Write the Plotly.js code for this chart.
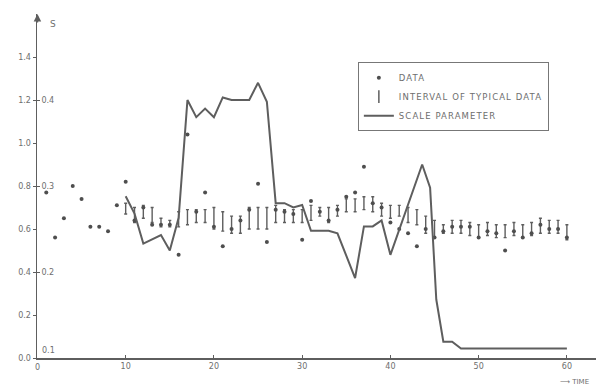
<!DOCTYPE html>
<html>
<head>
<meta charset="utf-8">
<script src="https://cdn.plot.ly/plotly-3.0.1.min.js"></script>
<style>
html,body{margin:0;padding:0;background:#fff;}
#chart{width:596px;height:388px;}
.legendtext{letter-spacing:1.1px;}
</style>
</head>
<body>
<div id="chart"></div>
<script>
// Data points (time, value on left axis)
const dataT = [1,2,3,4,5,6,7,8,9,10,11,12,13,14,15,16,17,18,19,20,21,22,23,24,25,26,27,28,29,30,
               31,32,33,34,35,36,37,38,39,40,41,42,43,44,45,46,47,48,49,50,51,52,53,54,55,56,57,58,59,60];
const dataV = [0.77,0.56,0.65,0.80,0.74,0.61,0.61,0.59,0.71,0.82,0.64,0.70,0.62,0.62,0.62,0.48,1.04,0.68,0.77,0.61,
               0.52,0.60,0.64,0.69,0.81,0.54,0.69,0.68,0.67,0.55,0.73,0.68,0.64,0.69,0.75,0.77,0.89,0.72,0.70,0.63,
               0.60,0.58,0.52,0.60,0.56,0.59,0.61,0.61,0.61,0.56,0.59,0.58,0.50,0.59,0.56,0.58,0.62,0.60,0.60,0.56];

// Interval of typical data (time, low, high)
const intT  = [10,11,12,13,14,15,16,17,18,19,20,21,22,23,24,25,26,27,28,29,30,31,32,33,34,35,
               36,37,38,39,40,41,42,43,44,45,46,47,48,49,50,51,52,53,54,55,56,57,58,59,60];
const intLo = [0.67,0.63,0.65,0.63,0.61,0.61,0.61,0.62,0.63,0.63,0.60,0.59,0.58,0.58,0.60,0.60,0.60,0.63,0.63,0.63,
               0.63,0.64,0.66,0.63,0.66,0.68,0.68,0.69,0.68,0.66,0.65,0.66,0.63,0.62,0.58,0.56,0.58,0.58,0.58,0.57,
               0.56,0.57,0.56,0.56,0.57,0.56,0.57,0.58,0.58,0.58,0.55];
const intHi = [0.72,0.70,0.71,0.70,0.65,0.64,0.68,0.69,0.69,0.69,0.70,0.68,0.66,0.66,0.70,0.70,0.70,0.71,0.69,0.69,
               0.69,0.71,0.70,0.70,0.71,0.74,0.74,0.75,0.75,0.72,0.71,0.71,0.70,0.69,0.66,0.64,0.62,0.64,0.64,0.63,
               0.62,0.63,0.62,0.62,0.63,0.62,0.63,0.65,0.64,0.64,0.62];

// Scale parameter S (right-hand scale)
const lineT = [10,11,12,13,14,15,16,17,18,19,20,21,22,23,24,25,26,27,28,29,30,31,32,33,34,36,37,38,39,40,43.6,44.5,45.2,46,47,48,60];
const lineS = [0.288,0.268,0.233,0.238,0.243,0.225,0.263,0.400,0.380,0.390,0.380,0.403,0.400,0.400,0.400,0.420,0.398,
               0.280,0.280,0.275,0.278,0.248,0.248,0.248,0.245,0.193,0.253,0.253,0.260,0.220,0.325,0.298,0.168,0.119,0.119,0.111,0.111];

// Tick labels
const xTicks = [0,10,20,30,40,50,60];
const yTicks = [0,0.2,0.4,0.6,0.8,1.0,1.2,1.4];
const sTicks = [0.2,0.3,0.4];
const sBaseLabel = 0.1;

const ink = '#5e5e5e';
const txt = '#6e6e6e';
const font = {family: 'DejaVu Sans', size: 8, color: txt};

const traces = [
  {
    x: intT, y: intLo, type: 'scatter', mode: 'markers',
    marker: {size: 1, color: 'rgba(0,0,0,0)'},
    error_y: {type: 'data', symmetric: false,
              array: intHi.map((h, i) => h - intLo[i]),
              arrayminus: intLo.map(() => 0),
              color: ink, thickness: 1.4, width: 1.5},
    showlegend: false, hoverinfo: 'skip'
  },
  {
    x: lineT, y: lineS, yaxis: 'y2', type: 'scatter', mode: 'lines',
    line: {color: ink, width: 2}, name: 'SCALE PARAMETER', legendrank: 3
  },
  {
    x: dataT, y: dataV, type: 'scatter', mode: 'markers',
    marker: {size: 4, color: '#4e4e4e'}, name: 'DATA', legendrank: 1
  },
  {
    x: [-100], y: [-100], type: 'scatter', mode: 'markers',
    marker: {symbol: 'line-ns-open', size: 9, color: ink, line: {width: 1.5, color: ink}},
    name: 'INTERVAL OF TYPICAL DATA', legendrank: 2
  }
];

const layout = {
  width: 596, height: 388,
  margin: {l: 37, r: 0, t: 14, b: 30},
  paper_bgcolor: '#ffffff', plot_bgcolor: '#ffffff',
  font: font,
  showlegend: true,
  legend: {
    x: 0.574, y: 0.86, xanchor: 'left', yanchor: 'top',
    bordercolor: '#777', borderwidth: 1, bgcolor: '#fff',
    font: {family: 'DejaVu Sans', size: 8.5, color: txt},
    traceorder: 'normal'
  },
  xaxis: {
    range: [-0.05, 63.3], tickvals: xTicks.slice(1), ticktext: xTicks.slice(1).map(String),
    ticks: 'inside', ticklen: 3, tickcolor: ink,
    showline: true, linecolor: ink, linewidth: 1.5,
    showgrid: false, zeroline: false, tickfont: font, fixedrange: true
  },
  yaxis: {
    range: [0, 1.6], tickvals: yTicks, ticktext: yTicks.map(v => v.toFixed(1)),
    ticks: 'outside', ticklen: 3, tickcolor: ink,
    showline: true, linecolor: ink, linewidth: 1.5,
    showgrid: false, zeroline: false, tickfont: font, fixedrange: true
  },
  yaxis2: {
    overlaying: 'y', anchor: 'x', side: 'left',
    range: [0.1, 0.5], tickvals: sTicks, ticktext: sTicks.map(v => v.toFixed(1)),
    ticklabelposition: 'inside', ticks: 'inside', ticklen: 3, tickcolor: ink,
    showline: false, showgrid: false, zeroline: false, tickfont: font, fixedrange: true
  },
  annotations: [
    {xref: 'x', yref: 'y', x: 0, y: 1.6, ax: 0, ay: 10, showarrow: true,
     arrowhead: 2, arrowsize: 1, arrowwidth: 1.5, arrowcolor: ink, text: ''},
    {xref: 'paper', yref: 'paper', x: 0, y: 1, xanchor: 'left', yanchor: 'top',
     xshift: 11, yshift: -3, text: 'S', showarrow: false,
     font: {family: 'DejaVu Sans', size: 9, color: txt}},
    {xref: 'paper', yref: 'y2', x: 0, y: sBaseLabel, xanchor: 'left', yanchor: 'bottom',
     xshift: 3, yshift: 1, text: sBaseLabel.toFixed(1), showarrow: false, font: font},
    {xref: 'x', yref: 'paper', x: xTicks[0], y: 0, xanchor: 'center', yanchor: 'top',
     yshift: -3, text: String(xTicks[0]), showarrow: false, font: font},
    {xref: 'paper', yref: 'paper', x: 1, y: 0, xanchor: 'right', yanchor: 'top',
     xshift: -5, yshift: -18, text: '⟶ TIME', showarrow: false,
     font: {family: 'DejaVu Sans', size: 7, color: txt}}
  ]
};

Plotly.newPlot('chart', traces, layout, {staticPlot: true, displayModeBar: false});
</script>
</body>
</html>
